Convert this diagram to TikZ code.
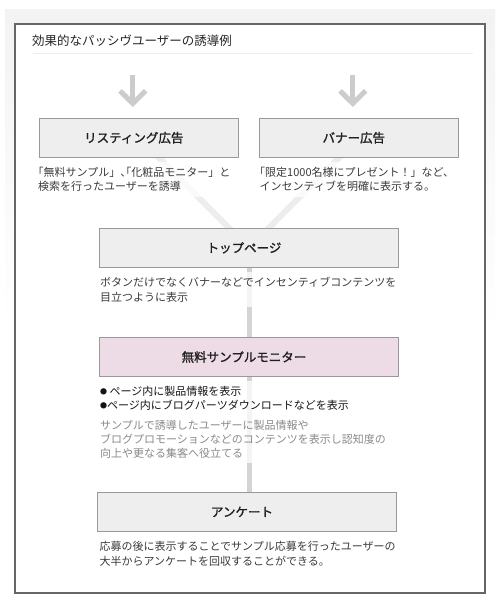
\documentclass[tikz,border=0pt]{standalone}
\usepackage{fontspec}
\setmainfont{Noto Sans CJK JP}
\newfontfamily\halffont[RawFeature=+halt]{Noto Sans CJK JP}
\newfontfamily\labelfont[FakeBold=1.3]{Noto Sans CJK JP}
\usetikzlibrary{backgrounds}

\definecolor{bggray}{HTML}{F3F3F3}
\definecolor{frameline}{HTML}{666666}
\definecolor{ruleline}{HTML}{EEEEEE}
\definecolor{boxgray}{HTML}{EEEEEE}
\definecolor{boxpink}{HTML}{EDDBE6}
\definecolor{boxline}{HTML}{999999}
\definecolor{arrowgray}{HTML}{CCCCCC}
\definecolor{linkgray}{HTML}{D4D4D4}
\definecolor{linklight}{HTML}{EDEDED}
\definecolor{textdark}{HTML}{3A3A3A}
\definecolor{textgray}{HTML}{8A8A8A}

% half width brackets
\newcommand{\hw}[1]{{\halffont #1}}
\newcommand{\bul}{\raisebox{1.3pt}{\fontsize{7}{7}\selectfont ●}}

\begin{document}
\begin{tikzpicture}[x=1pt,y=-1pt,
  stage/.style={draw=boxline,fill=boxgray,line width=1pt,
    minimum width=199pt,minimum height=39pt,inner sep=0pt,
    font=\labelfont\fontsize{12.5}{15}\selectfont,text=black!88,
    execute at end node={\hspace{10pt}}},
  widestage/.style={stage,minimum width=299pt},
  note/.style={anchor=base west,align=left,inner xsep=0pt,inner ysep=5pt,
    fill=white,fill opacity=0.75,text opacity=1,text=textdark,
    font=\fontsize{11}{14.2}\selectfont},
  link/.style={draw=linkgray,line width=5pt},
  fadelink/.style={draw=linklight,line width=6pt},
  downarrow/.style={draw=arrowgray,line width=5pt,miter limit=10}]

  \useasboundingbox (0,0) rectangle (500,610);

  \node[anchor=base west,inner sep=0pt,font=\fontsize{12.5}{15}\selectfont,
    text=black!85] (title) at (32,45.3) {効果的なパッシヴユーザーの誘導例};
  \draw[ruleline,line width=1pt] (33,54) -- (473,54);

  \node[stage] (lst) at (138.8,137.8) {リスティング広告};
  \node[stage] (bnr) at (358.8,137.8) {バナー広告};
  \node[widestage] (top) at (249,247.8) {トップページ};
  \node[widestage,fill=boxpink] (mon) at (249,357) {無料サンプルモニター};
  \node[widestage] (enq) at (247,511.9) {アンケート};

  % notes are placed by the baseline of their last line
  \node[note] (lstnote) at (38,190.6)
    {\hw{「}無料サンプル」\hw{、「}化粧品モニター」と\\検索を行ったユーザーを誘導};
  \node[note] (bnrnote) at (259.5,190.6)
    {\hw{「}限定1000名様にプレゼント！」など、\\インセンティブを明確に表示する。};
  \node[note,font=\fontsize{11}{15.6}\selectfont] (topnote) at (100,301.6)
    {ボタンだけでなくバナーなどでインセンティブコンテンツを\\目立つように表示};
  \node[note,text=black!92] (monnote) at (100,457.4)
    {\bul\ ページ内に製品情報を表示\\
     \bul ページ内にブログパーツダウンロードなどを表示\\[5pt]
     \textcolor{textgray}{サンプルで誘導したユーザーに製品情報や}\\
     \textcolor{textgray}{ブログプロモーションなどのコンテンツを表示し認知度の}\\
     \textcolor{textgray}{向上や更なる集客へ役立てる}};
  \node[note,font=\fontsize{11}{15.6}\selectfont] (enqnote) at (99.3,565.8)
    {応募の後に表示することでサンプル応募を行ったユーザーの\\大半からアンケートを回収することができる。};

  \foreach \b in {lst,bnr} {
    \draw[downarrow] ([xshift=-6pt,yshift=43pt]\b.north)
      -- ([xshift=-6pt,yshift=15pt]\b.north);
    \draw[downarrow] ([xshift=-18.8pt,yshift=27pt]\b.north)
      -- ([xshift=-6pt,yshift=14.3pt]\b.north)
      -- ([xshift=6.8pt,yshift=27pt]\b.north);
  }

  \begin{scope}[on background layer]
    \shade[top color=bggray,bottom color=white] (5,10) rectangle (495,330);
    \draw[frameline,fill=white,line width=1.6pt] (15,24) rectangle (485,593);
    \draw[fadelink] (lst.center) -- (top.center);
    \draw[fadelink] (bnr.center) -- (top.center);
    \draw[link] (top.center) -- (top.center |- enq.north);
  \end{scope}
\end{tikzpicture}
\end{document}
